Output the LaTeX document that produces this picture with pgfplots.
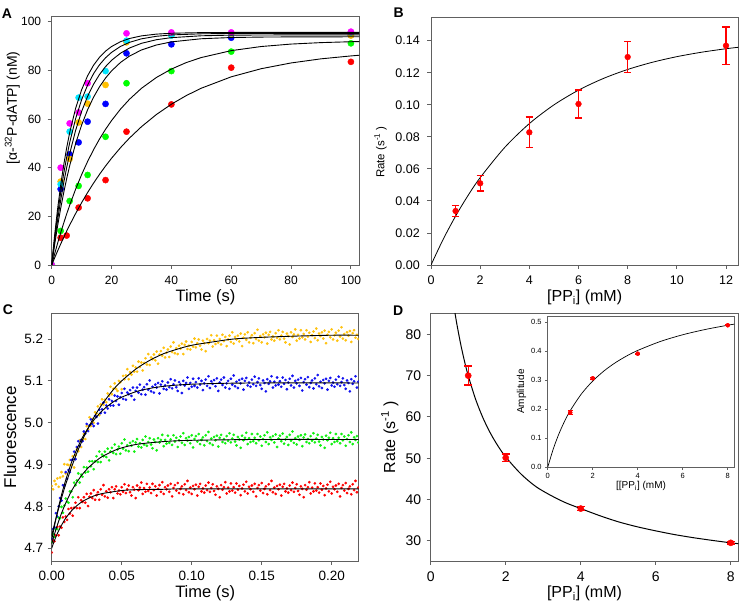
\documentclass[border=0pt]{standalone}
\usepackage{fontspec}
\setmainfont{Liberation Sans}
\usepackage{pgfplots}
\pgfplotsset{compat=1.18}
\definecolor{axgray}{HTML}{606060}
\definecolor{cmag}{HTML}{FF00FF}
\definecolor{ccyan}{HTML}{00E5FF}
\definecolor{corange}{HTML}{FFC000}
\definecolor{cblue}{HTML}{0000FF}
\definecolor{cgreen}{HTML}{00FF00}
\definecolor{cred}{HTML}{FF0000}
\definecolor{cyel}{HTML}{FFC20E}
\definecolor{cblue2}{HTML}{1010F0}
\definecolor{cgreen2}{HTML}{10F010}
\pgfplotsset{
  panel/.style={scale only axis, anchor=south west,
    axis line style={draw=axgray, line width=0.9pt},
    tick style={draw=axgray, line width=0.9pt},
    tick align=outside, major tick length=4pt, tick pos=left,
    /pgf/number format/assume math mode=true, scaled ticks=false,
    clip marker paths=true},
  dots/.style={only marks, mark=*, mark size=#1},
  fmt/.style={/pgf/number format/fixed, /pgf/number format/fixed zerofill, /pgf/number format/precision=#1},
  ebars/.style 2 args={only marks, mark=none, forget plot, color=cred,
    error bars/.cd, y dir=both, y explicit,
    error bar style={line width=#1, draw=cred, solid},
    error mark options={rotate=90, line width=#1, draw=cred, solid, mark size=#2}},
}
\begin{document}
\begin{tikzpicture}
\path[use as bounding box] (0,0) rectangle (740pt,603pt);
\node[anchor=base west, inner sep=0, font=\bfseries\fontsize{14}{14}\selectfont] at (1.7pt,584.7pt) {A};
\node[anchor=base west, inner sep=0, font=\bfseries\fontsize{14}{14}\selectfont] at (393.3pt,585.7pt) {B};
\node[anchor=base west, inner sep=0, font=\bfseries\fontsize{14}{14}\selectfont] at (2.7pt,288pt) {C};
\node[anchor=base west, inner sep=0, font=\bfseries\fontsize{14}{14}\selectfont] at (393pt,287.3pt) {D};

% ---------------- Panel A ----------------
\begin{axis}[panel, at={(51.7pt,338pt)}, width=307.6pt, height=248.3pt,
  xmin=0, xmax=102.8, ymin=0, ymax=102.05,
  xtick={0,20,40,60,80,100}, ytick={0,20,40,60,80,100},
  tick label style={font=\fontsize{12}{14}\selectfont},
  x tick label style={yshift=-4pt}, y tick label style={xshift=-3pt},
  xlabel={Time (s)},
  xlabel style={font=\fontsize{16.5}{18}\selectfont, at={(axis description cs:0.5,-0.148)}, anchor=base},
  ylabel={[α-\textsuperscript{32}P-dATP] (nM)},
  ylabel style={font=\fontsize{14}{16}\selectfont, at={(axis description cs:-0.113,0.633)}, anchor=base},
]
\addplot[dots=3.1pt, color=cred] coordinates {(0,0) (3,11.2) (5,12.1) (9,23.6) (12,27.4) (18,34.9) (25,54.8) (40,66.0) (60,81.1) (100,83.5)};
\addplot[dots=3.1pt, color=cgreen] coordinates {(0,0) (3,14.0) (6,26.3) (9,32.5) (12,37.0) (18,52.7) (25,74.7) (40,79.7) (60,87.7) (100,91.1)};
\addplot[dots=3.1pt, color=cblue] coordinates {(0,0) (3,31.2) (6,45.5) (9,50.4) (12,58.9) (18,66.2) (25,87.0) (40,90.7) (60,93.4) (100,94.5)};
\addplot[dots=3.1pt, color=corange] coordinates {(0,0) (3,34.3) (6,43.6) (9,58.6) (12,66.3) (18,74.0) (25,91.5) (40,94.5) (60,95.0) (100,94.3)};
\addplot[dots=3.1pt, color=ccyan] coordinates {(0,0) (3,33.2) (6,54.8) (9,68.8) (12,69.2) (18,79.7) (25,92.2) (40,94.3) (60,95.3) (100,95.6)};
\addplot[dots=3.1pt, color=cmag] coordinates {(0,0) (3,40.0) (6,58.2) (9,62.7) (12,74.7) (25,95.2) (40,95.6) (60,95.6) (100,95.9)};
\addplot[black, line width=0.9pt] coordinates {(0,0) (1,12.49) (2,23.35) (3,32.79) (4,40.99) (5,48.13) (6,54.33) (8,64.41) (10,72.02) (12,77.78) (14,82.13) (16,85.42) (18,87.90) (20,89.79) (23,91.78) (26,93.09) (30,94.17) (35,94.89) (40,95.25) (50,95.51) (60,95.58) (80,95.6) (102.8,95.6)};
\addplot[black, line width=0.9pt] coordinates {(0,0) (1,11.19) (2,21.06) (3,29.77) (4,37.46) (5,44.24) (6,50.23) (8,60.18) (10,67.93) (12,73.96) (14,78.65) (16,82.32) (18,85.17) (20,87.38) (23,89.83) (26,91.51) (30,92.96) (35,94.00) (40,94.56) (50,95.02) (60,95.15) (80,95.2) (102.8,95.2)};
\addplot[black, line width=0.9pt] coordinates {(0,0) (1,9.86) (2,18.68) (3,26.59) (4,33.68) (5,40.03) (6,45.70) (8,55.36) (10,63.11) (12,69.33) (14,74.32) (16,78.33) (18,81.54) (20,84.12) (23,87.06) (26,89.18) (30,91.11) (35,92.59) (40,93.44) (50,94.21) (60,94.47) (80,94.58) (102.8,94.6)};
\addplot[black, line width=0.9pt] coordinates {(0,0) (1,8.50) (2,16.23) (3,23.26) (4,29.65) (5,35.47) (6,40.76) (8,49.93) (10,57.53) (12,63.80) (14,68.99) (16,73.29) (18,76.83) (20,79.77) (23,83.25) (26,85.86) (30,88.38) (35,90.42) (40,91.70) (50,92.99) (60,93.49) (70,93.68) (80,93.75) (102.8,93.8)};
\addplot[black, line width=0.9pt] coordinates {(0,0) (1,4.63) (2,9.04) (3,13.22) (4,17.18) (5,20.95) (6,24.53) (8,31.17) (10,37.15) (12,42.55) (14,47.41) (16,51.81) (18,55.78) (20,59.35) (23,64.07) (26,68.11) (30,72.61) (35,77.08) (40,80.53) (45,83.21) (50,85.27) (60,88.10) (70,89.79) (80,90.80) (90,91.40) (100,91.76) (102.8,91.84)};
\addplot[black, line width=0.9pt] coordinates {(0,0) (1,2.97) (2,5.84) (3,8.62) (4,11.31) (5,13.90) (6,16.40) (8,21.17) (10,25.62) (12,29.78) (14,33.67) (16,37.30) (18,40.69) (20,43.86) (23,48.23) (26,52.18) (30,56.84) (35,61.86) (40,66.08) (45,69.65) (50,72.66) (60,77.34) (70,80.67) (80,83.04) (90,84.73) (100,85.93) (102.8,86.21)};
\end{axis}

% ---------------- Panel B ----------------
\begin{axis}[panel, at={(431pt,338pt)}, width=307.3pt, height=247.7pt,
  xmin=0, xmax=12.5, ymin=0, ymax=0.1546,
  xtick={0,2,4,6,8,10,12}, ytick={0,0.02,0.04,0.06,0.08,0.10,0.12,0.14},
  tick label style={font=\fontsize{12.5}{14}\selectfont},
  x tick label style={yshift=-3pt}, y tick label style={xshift=-3.7pt, fmt=2},
  xlabel={[PP\textsubscript{i}] (mM)},
  xlabel style={font=\fontsize{16}{18}\selectfont, at={(axis description cs:0.5,-0.149)}, anchor=base},
  ylabel={Rate (s\textsuperscript{-1} )},
  ylabel style={font=\fontsize{11.5}{13}\selectfont, at={(axis description cs:-0.152,0.456)}, anchor=base},
  unbounded coords=jump,
]
\addplot[black, line width=0.8pt, smooth] coordinates {(0,0) (0.5,0.01617) (1,0.03051) (1.5,0.04323) (2,0.05451) (3,0.07339) (4,0.08825) (5,0.09993) (6,0.10912) (7,0.11634) (8,0.12204) (9,0.12651) (10,0.13003) (11,0.13279) (12,0.13498) (12.5,0.13588)};
% error bars (value +- error), drawn as segments with caps
\addplot[draw=cred, line width=1.3pt, forget plot] coordinates {
(1,0.0302) (1,0.0372) (nan,nan) (0.854,0.0302) (1.146,0.0302) (nan,nan) (0.854,0.0372) (1.146,0.0372) (nan,nan)
(2,0.0462) (2,0.0558) (nan,nan) (1.854,0.0462) (2.146,0.0462) (nan,nan) (1.854,0.0558) (2.146,0.0558) (nan,nan)
(4,0.0733) (4,0.0923) (nan,nan) (3.854,0.0733) (4.146,0.0733) (nan,nan) (3.854,0.0923) (4.146,0.0923) (nan,nan)
(6,0.0918) (6,0.1092) (nan,nan) (5.854,0.0918) (6.146,0.0918) (nan,nan) (5.854,0.1092) (6.146,0.1092) (nan,nan)
(8,0.1203) (8,0.1393) (nan,nan) (7.854,0.1203) (8.146,0.1203) (nan,nan) (7.854,0.1393) (8.146,0.1393) (nan,nan)
(12,0.1253) (12,0.1485) (nan,nan) (11.854,0.1253) (12.146,0.1253) (nan,nan) (11.854,0.1485) (12.146,0.1485)};
\addplot[dots=2.9pt, color=cred] coordinates {(1,0.0337) (2,0.0510) (4,0.0828) (6,0.1005) (8,0.1298) (12,0.1369)};
\end{axis}

% ---------------- Panel C ----------------
\begin{axis}[panel, at={(51.7pt,42pt)}, width=307pt, height=247.7pt,
  xmin=0, xmax=0.2193, ymin=4.6697, ymax=5.2614,
  xtick={0,0.05,0.10,0.15,0.20}, ytick={4.7,4.8,4.9,5.0,5.1,5.2},
  tick label style={font=\fontsize{13.5}{16}\selectfont},
  x tick label style={yshift=-3pt, fmt=2},
  y tick label style={xshift=-1pt, fmt=1},
  xlabel={Time (s)},
  xlabel style={font=\fontsize{16.5}{18}\selectfont, at={(axis description cs:0.5,-0.146)}, anchor=base},
  ylabel={Fluorescence},
  ylabel style={font=\fontsize{17}{19}\selectfont, at={(axis description cs:-0.116,0.5)}, anchor=base},
]
\addplot[dots=1.15pt, color=cyel] coordinates {
(0.000,4.849) (0.001,4.841) (0.002,4.861) (0.003,4.853) (0.004,4.867) (0.005,4.847) (0.006,4.869) (0.007,4.882) (0.008,4.872) (0.009,4.901)
(0.010,4.879) (0.011,4.900) (0.012,4.899) (0.013,4.911) (0.014,4.899) (0.015,4.920) (0.016,4.893) (0.017,4.922) (0.018,4.937) (0.019,4.932)
(0.020,4.958) (0.021,4.942) (0.022,4.959) (0.023,4.973) (0.024,4.961) (0.025,4.992) (0.026,4.984) (0.027,5.013) (0.028,4.992) (0.029,5.009)
(0.030,5.000) (0.031,5.025) (0.032,5.022) (0.033,5.039) (0.034,5.018) (0.035,5.044) (0.036,5.056) (0.037,5.043) (0.038,5.055) (0.039,5.049)
(0.040,5.070) (0.041,5.064) (0.042,5.086) (0.043,5.068) (0.044,5.081) (0.045,5.094) (0.046,5.081) (0.047,5.076) (0.048,5.100) (0.049,5.097)
(0.050,5.080) (0.051,5.112) (0.052,5.104) (0.053,5.113) (0.054,5.128) (0.055,5.104) (0.056,5.121) (0.057,5.115) (0.058,5.136) (0.059,5.122)
(0.060,5.132) (0.061,5.122) (0.062,5.146) (0.063,5.133) (0.064,5.144) (0.065,5.125) (0.066,5.143) (0.067,5.154) (0.068,5.139) (0.069,5.164)
(0.070,5.138) (0.071,5.156) (0.072,5.152) (0.073,5.163) (0.074,5.149) (0.075,5.170) (0.076,5.141) (0.077,5.163) (0.078,5.171) (0.079,5.160)
(0.080,5.179) (0.081,5.156) (0.082,5.167) (0.083,5.175) (0.084,5.157) (0.085,5.182) (0.086,5.169) (0.087,5.192) (0.088,5.166) (0.089,5.178)
(0.090,5.164) (0.091,5.184) (0.092,5.177) (0.093,5.189) (0.094,5.164) (0.095,5.186) (0.096,5.194) (0.097,5.176) (0.098,5.184) (0.099,5.175)
(0.100,5.193) (0.101,5.182) (0.102,5.201) (0.103,5.180) (0.104,5.190) (0.105,5.199) (0.106,5.184) (0.107,5.175) (0.108,5.196) (0.109,5.190)
(0.110,5.171) (0.111,5.200) (0.112,5.190) (0.113,5.196) (0.114,5.209) (0.115,5.182) (0.116,5.197) (0.117,5.188) (0.118,5.208) (0.119,5.191)
(0.120,5.200) (0.121,5.187) (0.122,5.210) (0.123,5.195) (0.124,5.205) (0.125,5.183) (0.126,5.199) (0.127,5.208) (0.128,5.193) (0.129,5.216)
(0.130,5.189) (0.131,5.205) (0.132,5.199) (0.133,5.208) (0.134,5.194) (0.135,5.213) (0.136,5.183) (0.137,5.203) (0.138,5.211) (0.139,5.198)
(0.140,5.216) (0.141,5.192) (0.142,5.203) (0.143,5.209) (0.144,5.190) (0.145,5.214) (0.146,5.200) (0.147,5.222) (0.148,5.196) (0.149,5.207)
(0.150,5.192) (0.151,5.211) (0.152,5.204) (0.153,5.215) (0.154,5.189) (0.155,5.210) (0.156,5.217) (0.157,5.199) (0.158,5.206) (0.159,5.196)
(0.160,5.214) (0.161,5.203) (0.162,5.221) (0.163,5.199) (0.164,5.208) (0.165,5.217) (0.166,5.201) (0.167,5.192) (0.168,5.213) (0.169,5.207)
(0.170,5.187) (0.171,5.216) (0.172,5.205) (0.173,5.211) (0.174,5.223) (0.175,5.196) (0.176,5.210) (0.177,5.201) (0.178,5.221) (0.179,5.204)
(0.180,5.212) (0.181,5.199) (0.182,5.221) (0.183,5.206) (0.184,5.215) (0.185,5.193) (0.186,5.209) (0.187,5.218) (0.188,5.202) (0.189,5.225)
(0.190,5.197) (0.191,5.213) (0.192,5.207) (0.193,5.216) (0.194,5.201) (0.195,5.220) (0.196,5.190) (0.197,5.210) (0.198,5.217) (0.199,5.204)
(0.200,5.223) (0.201,5.199) (0.202,5.209) (0.203,5.215) (0.204,5.196) (0.205,5.220) (0.206,5.206) (0.207,5.228) (0.208,5.201) (0.209,5.212)
(0.210,5.197) (0.211,5.216) (0.212,5.208) (0.213,5.219) (0.214,5.193) (0.215,5.214) (0.216,5.221) (0.217,5.203) (0.218,5.210) (0.219,5.200)};
\addplot[dots=1.15pt, color=cblue2] coordinates {
(0.000,4.722) (0.001,4.746) (0.002,4.750) (0.003,4.784) (0.004,4.776) (0.005,4.800) (0.006,4.820) (0.007,4.814) (0.008,4.851) (0.009,4.849)
(0.010,4.882) (0.011,4.866) (0.012,4.887) (0.013,4.882) (0.014,4.911) (0.015,4.912) (0.016,4.931) (0.017,4.913) (0.018,4.942) (0.019,4.956)
(0.020,4.945) (0.021,4.959) (0.022,4.956) (0.023,4.979) (0.024,4.974) (0.025,4.997) (0.026,4.980) (0.027,4.994) (0.028,5.008) (0.029,4.997)
(0.030,4.992) (0.031,5.016) (0.032,5.014) (0.033,4.998) (0.034,5.031) (0.035,5.023) (0.036,5.032) (0.037,5.048) (0.038,5.024) (0.039,5.041)
(0.040,5.034) (0.041,5.056) (0.042,5.041) (0.043,5.052) (0.044,5.041) (0.045,5.065) (0.046,5.052) (0.047,5.063) (0.048,5.043) (0.049,5.061)
(0.050,5.071) (0.051,5.057) (0.052,5.081) (0.053,5.055) (0.054,5.072) (0.055,5.068) (0.056,5.078) (0.057,5.064) (0.058,5.084) (0.059,5.055)
(0.060,5.076) (0.061,5.084) (0.062,5.072) (0.063,5.091) (0.064,5.068) (0.065,5.079) (0.066,5.085) (0.067,5.067) (0.068,5.092) (0.069,5.079)
(0.070,5.101) (0.071,5.075) (0.072,5.086) (0.073,5.072) (0.074,5.091) (0.075,5.084) (0.076,5.095) (0.077,5.070) (0.078,5.091) (0.079,5.099)
(0.080,5.081) (0.081,5.089) (0.082,5.079) (0.083,5.096) (0.084,5.085) (0.085,5.104) (0.086,5.082) (0.087,5.092) (0.088,5.101) (0.089,5.085)
(0.090,5.076) (0.091,5.097) (0.092,5.091) (0.093,5.071) (0.094,5.100) (0.095,5.089) (0.096,5.095) (0.097,5.108) (0.098,5.081) (0.099,5.095)
(0.100,5.086) (0.101,5.105) (0.102,5.088) (0.103,5.097) (0.104,5.084) (0.105,5.106) (0.106,5.091) (0.107,5.100) (0.108,5.078) (0.109,5.094)
(0.110,5.103) (0.111,5.088) (0.112,5.111) (0.113,5.083) (0.114,5.099) (0.115,5.093) (0.116,5.102) (0.117,5.087) (0.118,5.106) (0.119,5.076)
(0.120,5.096) (0.121,5.103) (0.122,5.090) (0.123,5.108) (0.124,5.084) (0.125,5.094) (0.126,5.100) (0.127,5.081) (0.128,5.105) (0.129,5.091)
(0.130,5.113) (0.131,5.087) (0.132,5.098) (0.133,5.083) (0.134,5.102) (0.135,5.094) (0.136,5.105) (0.137,5.079) (0.138,5.100) (0.139,5.107)
(0.140,5.089) (0.141,5.096) (0.142,5.086) (0.143,5.103) (0.144,5.092) (0.145,5.110) (0.146,5.088) (0.147,5.097) (0.148,5.106) (0.149,5.090)
(0.150,5.081) (0.151,5.101) (0.152,5.095) (0.153,5.075) (0.154,5.104) (0.155,5.093) (0.156,5.099) (0.157,5.111) (0.158,5.084) (0.159,5.098)
(0.160,5.089) (0.161,5.108) (0.162,5.091) (0.163,5.099) (0.164,5.086) (0.165,5.108) (0.166,5.093) (0.167,5.102) (0.168,5.080) (0.169,5.096)
(0.170,5.105) (0.171,5.089) (0.172,5.112) (0.173,5.084) (0.174,5.100) (0.175,5.094) (0.176,5.103) (0.177,5.088) (0.178,5.107) (0.179,5.077)
(0.180,5.097) (0.181,5.104) (0.182,5.091) (0.183,5.109) (0.184,5.085) (0.185,5.095) (0.186,5.101) (0.187,5.082) (0.188,5.106) (0.189,5.092)
(0.190,5.114) (0.191,5.087) (0.192,5.098) (0.193,5.083) (0.194,5.102) (0.195,5.094) (0.196,5.105) (0.197,5.079) (0.198,5.100) (0.199,5.107)
(0.200,5.089) (0.201,5.096) (0.202,5.086) (0.203,5.103) (0.204,5.092) (0.205,5.110) (0.206,5.088) (0.207,5.097) (0.208,5.106) (0.209,5.090)
(0.210,5.081) (0.211,5.101) (0.212,5.095) (0.213,5.075) (0.214,5.104) (0.215,5.093) (0.216,5.099) (0.217,5.111) (0.218,5.084) (0.219,5.098)};
\addplot[dots=1.15pt, color=cgreen2] coordinates {
(0.000,4.715) (0.001,4.734) (0.002,4.728) (0.003,4.746) (0.004,4.746) (0.005,4.773) (0.006,4.772) (0.007,4.799) (0.008,4.785) (0.009,4.802)
(0.010,4.819) (0.011,4.811) (0.012,4.809) (0.013,4.836) (0.014,4.836) (0.015,4.822) (0.016,4.857) (0.017,4.851) (0.018,4.862) (0.019,4.879)
(0.020,4.857) (0.021,4.876) (0.022,4.871) (0.023,4.894) (0.024,4.881) (0.025,4.893) (0.026,4.883) (0.027,4.908) (0.028,4.896) (0.029,4.908)
(0.030,4.889) (0.031,4.908) (0.032,4.920) (0.033,4.906) (0.034,4.931) (0.035,4.906) (0.036,4.924) (0.037,4.920) (0.038,4.931) (0.039,4.918)
(0.040,4.938) (0.041,4.910) (0.042,4.931) (0.043,4.940) (0.044,4.928) (0.045,4.948) (0.046,4.925) (0.047,4.936) (0.048,4.943) (0.049,4.926)
(0.050,4.951) (0.051,4.938) (0.052,4.960) (0.053,4.934) (0.054,4.946) (0.055,4.932) (0.056,4.952) (0.057,4.945) (0.058,4.956) (0.059,4.931)
(0.060,4.953) (0.061,4.961) (0.062,4.943) (0.063,4.951) (0.064,4.941) (0.065,4.959) (0.066,4.948) (0.067,4.967) (0.068,4.945) (0.069,4.954)
(0.070,4.963) (0.071,4.948) (0.072,4.939) (0.073,4.960) (0.074,4.954) (0.075,4.934) (0.076,4.963) (0.077,4.953) (0.078,4.959) (0.079,4.971)
(0.080,4.944) (0.081,4.959) (0.082,4.950) (0.083,4.969) (0.084,4.952) (0.085,4.960) (0.086,4.947) (0.087,4.970) (0.088,4.955) (0.089,4.964)
(0.090,4.942) (0.091,4.958) (0.092,4.967) (0.093,4.952) (0.094,4.975) (0.095,4.947) (0.096,4.963) (0.097,4.957) (0.098,4.966) (0.099,4.951)
(0.100,4.970) (0.101,4.941) (0.102,4.961) (0.103,4.968) (0.104,4.955) (0.105,4.973) (0.106,4.949) (0.107,4.959) (0.108,4.965) (0.109,4.946)
(0.110,4.970) (0.111,4.956) (0.112,4.978) (0.113,4.951) (0.114,4.962) (0.115,4.947) (0.116,4.966) (0.117,4.958) (0.118,4.969) (0.119,4.943)
(0.120,4.964) (0.121,4.971) (0.122,4.954) (0.123,4.961) (0.124,4.951) (0.125,4.968) (0.126,4.957) (0.127,4.975) (0.128,4.953) (0.129,4.962)
(0.130,4.971) (0.131,4.955) (0.132,4.946) (0.133,4.966) (0.134,4.960) (0.135,4.940) (0.136,4.969) (0.137,4.958) (0.138,4.964) (0.139,4.976)
(0.140,4.949) (0.141,4.963) (0.142,4.954) (0.143,4.973) (0.144,4.956) (0.145,4.964) (0.146,4.951) (0.147,4.973) (0.148,4.958) (0.149,4.967)
(0.150,4.945) (0.151,4.961) (0.152,4.970) (0.153,4.954) (0.154,4.977) (0.155,4.949) (0.156,4.965) (0.157,4.959) (0.158,4.968) (0.159,4.953)
(0.160,4.972) (0.161,4.942) (0.162,4.962) (0.163,4.969) (0.164,4.956) (0.165,4.974) (0.166,4.950) (0.167,4.960) (0.168,4.966) (0.169,4.947)
(0.170,4.971) (0.171,4.957) (0.172,4.979) (0.173,4.952) (0.174,4.963) (0.175,4.948) (0.176,4.967) (0.177,4.959) (0.178,4.970) (0.179,4.944)
(0.180,4.965) (0.181,4.972) (0.182,4.954) (0.183,4.961) (0.184,4.951) (0.185,4.968) (0.186,4.957) (0.187,4.975) (0.188,4.953) (0.189,4.962)
(0.190,4.971) (0.191,4.955) (0.192,4.946) (0.193,4.966) (0.194,4.960) (0.195,4.940) (0.196,4.969) (0.197,4.958) (0.198,4.964) (0.199,4.976)
(0.200,4.949) (0.201,4.963) (0.202,4.954) (0.203,4.973) (0.204,4.956) (0.205,4.964) (0.206,4.951) (0.207,4.973) (0.208,4.958) (0.209,4.967)
(0.210,4.945) (0.211,4.961) (0.212,4.970) (0.213,4.954) (0.214,4.977) (0.215,4.949) (0.216,4.965) (0.217,4.959) (0.218,4.968) (0.219,4.953)};
\addplot[dots=1.15pt, color=cred] coordinates {
(0.000,4.690) (0.001,4.719) (0.002,4.717) (0.003,4.731) (0.004,4.751) (0.005,4.731) (0.006,4.752) (0.007,4.749) (0.008,4.774) (0.009,4.763)
(0.010,4.776) (0.011,4.768) (0.012,4.794) (0.013,4.783) (0.014,4.796) (0.015,4.778) (0.016,4.797) (0.017,4.809) (0.018,4.796) (0.019,4.822)
(0.020,4.796) (0.021,4.815) (0.022,4.811) (0.023,4.822) (0.024,4.809) (0.025,4.830) (0.026,4.801) (0.027,4.823) (0.028,4.831) (0.029,4.820)
(0.030,4.839) (0.031,4.816) (0.032,4.827) (0.033,4.834) (0.034,4.816) (0.035,4.841) (0.036,4.828) (0.037,4.851) (0.038,4.824) (0.039,4.836)
(0.040,4.821) (0.041,4.841) (0.042,4.834) (0.043,4.846) (0.044,4.820) (0.045,4.841) (0.046,4.848) (0.047,4.831) (0.048,4.838) (0.049,4.829)
(0.050,4.846) (0.051,4.835) (0.052,4.853) (0.053,4.832) (0.054,4.841) (0.055,4.850) (0.056,4.834) (0.057,4.826) (0.058,4.846) (0.059,4.840)
(0.060,4.820) (0.061,4.850) (0.062,4.839) (0.063,4.845) (0.064,4.857) (0.065,4.830) (0.066,4.844) (0.067,4.835) (0.068,4.854) (0.069,4.837)
(0.070,4.845) (0.071,4.832) (0.072,4.854) (0.073,4.839) (0.074,4.848) (0.075,4.826) (0.076,4.842) (0.077,4.851) (0.078,4.835) (0.079,4.858)
(0.080,4.830) (0.081,4.846) (0.082,4.841) (0.083,4.850) (0.084,4.835) (0.085,4.854) (0.086,4.824) (0.087,4.844) (0.088,4.851) (0.089,4.838)
(0.090,4.856) (0.091,4.832) (0.092,4.842) (0.093,4.848) (0.094,4.829) (0.095,4.853) (0.096,4.839) (0.097,4.861) (0.098,4.834) (0.099,4.845)
(0.100,4.830) (0.101,4.849) (0.102,4.841) (0.103,4.852) (0.104,4.826) (0.105,4.847) (0.106,4.854) (0.107,4.836) (0.108,4.843) (0.109,4.833)
(0.110,4.850) (0.111,4.839) (0.112,4.857) (0.113,4.835) (0.114,4.844) (0.115,4.853) (0.116,4.837) (0.117,4.828) (0.118,4.848) (0.119,4.842)
(0.120,4.822) (0.121,4.851) (0.122,4.840) (0.123,4.846) (0.124,4.858) (0.125,4.831) (0.126,4.845) (0.127,4.836) (0.128,4.855) (0.129,4.838)
(0.130,4.846) (0.131,4.833) (0.132,4.855) (0.133,4.840) (0.134,4.849) (0.135,4.827) (0.136,4.843) (0.137,4.852) (0.138,4.836) (0.139,4.859)
(0.140,4.831) (0.141,4.847) (0.142,4.841) (0.143,4.850) (0.144,4.835) (0.145,4.854) (0.146,4.824) (0.147,4.844) (0.148,4.851) (0.149,4.838)
(0.150,4.856) (0.151,4.832) (0.152,4.842) (0.153,4.848) (0.154,4.829) (0.155,4.853) (0.156,4.839) (0.157,4.861) (0.158,4.834) (0.159,4.845)
(0.160,4.830) (0.161,4.849) (0.162,4.841) (0.163,4.852) (0.164,4.826) (0.165,4.847) (0.166,4.854) (0.167,4.836) (0.168,4.843) (0.169,4.833)
(0.170,4.850) (0.171,4.839) (0.172,4.857) (0.173,4.835) (0.174,4.844) (0.175,4.853) (0.176,4.837) (0.177,4.828) (0.178,4.848) (0.179,4.842)
(0.180,4.822) (0.181,4.851) (0.182,4.840) (0.183,4.846) (0.184,4.858) (0.185,4.831) (0.186,4.845) (0.187,4.836) (0.188,4.855) (0.189,4.838)
(0.190,4.846) (0.191,4.833) (0.192,4.855) (0.193,4.840) (0.194,4.849) (0.195,4.827) (0.196,4.843) (0.197,4.852) (0.198,4.836) (0.199,4.859)
(0.200,4.831) (0.201,4.847) (0.202,4.841) (0.203,4.850) (0.204,4.835) (0.205,4.854) (0.206,4.824) (0.207,4.844) (0.208,4.851) (0.209,4.838)
(0.210,4.856) (0.211,4.832) (0.212,4.842) (0.213,4.848) (0.214,4.829) (0.215,4.853) (0.216,4.839) (0.217,4.861) (0.218,4.834) (0.219,4.845)};
\addplot[black, line width=0.9pt, smooth] coordinates {(0,4.730) (0.002,4.758) (0.004,4.783) (0.006,4.808) (0.008,4.831) (0.010,4.853) (0.014,4.892) (0.018,4.928) (0.022,4.959) (0.026,4.987) (0.030,5.012) (0.035,5.039) (0.040,5.062) (0.045,5.083) (0.050,5.100) (0.060,5.128) (0.070,5.149) (0.080,5.165) (0.090,5.176) (0.100,5.185) (0.115,5.193) (0.130,5.200) (0.150,5.204) (0.175,5.207) (0.200,5.209) (0.2193,5.209)};
\addplot[black, line width=0.9pt, smooth] coordinates {(0,4.720) (0.002,4.754) (0.004,4.786) (0.006,4.814) (0.008,4.840) (0.010,4.863) (0.014,4.904) (0.018,4.937) (0.022,4.965) (0.026,4.987) (0.030,5.006) (0.035,5.025) (0.040,5.040) (0.045,5.052) (0.050,5.061) (0.060,5.074) (0.070,5.082) (0.080,5.087) (0.090,5.090) (0.100,5.092) (0.120,5.094) (0.150,5.095) (0.2193,5.095)};
\addplot[black, line width=0.9pt, smooth] coordinates {(0,4.710) (0.002,4.734) (0.004,4.755) (0.006,4.775) (0.008,4.792) (0.010,4.808) (0.014,4.836) (0.018,4.858) (0.022,4.877) (0.026,4.892) (0.030,4.904) (0.035,4.917) (0.040,4.926) (0.045,4.934) (0.050,4.940) (0.060,4.948) (0.070,4.952) (0.080,4.955) (0.090,4.957) (0.100,4.958) (0.120,4.959) (0.150,4.960) (0.2193,4.960)};
\addplot[black, line width=0.9pt, smooth] coordinates {(0,4.700) (0.002,4.719) (0.004,4.735) (0.006,4.749) (0.008,4.761) (0.010,4.772) (0.014,4.789) (0.018,4.802) (0.022,4.812) (0.026,4.819) (0.030,4.825) (0.035,4.830) (0.040,4.833) (0.050,4.838) (0.060,4.840) (0.080,4.841) (0.100,4.842) (0.2193,4.842)};
\end{axis}

% ---------------- Panel D ----------------
\begin{axis}[panel, at={(430.7pt,42pt)}, width=307.6pt, height=247.7pt,
  xmin=0, xmax=8.2, ymin=25.1, ymax=85.1,
  xtick={0,2,4,6,8}, ytick={30,40,50,60,70,80},
  tick label style={font=\fontsize{14}{16}\selectfont},
  x tick label style={yshift=-3pt}, y tick label style={xshift=-2pt},
  xlabel={[PP\textsubscript{i}] (mM)},
  xlabel style={font=\fontsize{16}{18}\selectfont, at={(axis description cs:0.5,-0.149)}, anchor=base},
  ylabel={Rate (s\textsuperscript{-1} )},
  ylabel style={font=\fontsize{16}{18}\selectfont, at={(axis description cs:-0.116,0.5)}, anchor=base},
]
\addplot[black, line width=1pt, smooth] coordinates {(0.6,87.96) (0.65,85.03) (0.7,82.35) (0.8,77.60) (0.9,73.53) (1.0,70.00) (1.2,64.20) (1.4,59.63) (1.6,55.92) (1.8,52.87) (2.0,50.30) (2.4,46.23) (2.8,43.15) (3.2,41.0) (3.6,39.2) (4.0,37.8) (4.5,36.1) (5.0,34.6) (5.5,33.4) (6.0,32.4) (6.5,31.5) (7.0,30.75) (7.5,30.1) (8.0,29.5) (8.2,29.3)};
\addplot[ebars={1.3pt}{4pt}] coordinates {(1,70.0) +- (0,2.3) (2,50.1) +- (0,0.9) (4,37.8) +- (0,0.5) (8,29.5) +- (0,0.25)};
\addplot[dots=3.1pt, color=cred] coordinates {(1,70.0) (2,50.1) (4,37.8) (8,29.5)};
\end{axis}

% ---------------- Inset ----------------
\begin{axis}[panel, at={(547.7pt,135.7pt)}, width=186.6pt, height=151.3pt,
  axis background/.style={fill=white},
  xmin=0, xmax=8.29, ymin=0, ymax=0.522,
  major tick length=2.5pt,
  axis line style={draw=axgray, line width=0.7pt}, tick style={draw=axgray, line width=0.7pt},
  xtick={0,2,4,6,8}, ytick={0,0.1,0.2,0.3,0.4,0.5},
  tick label style={font=\fontsize{7.5}{9}\selectfont},
  y tick label style={fmt=1},
  xlabel={[[PP\textsubscript{i}] (mM)},
  xlabel style={font=\fontsize{10}{12}\selectfont, at={(axis description cs:0.5,-0.143)}, anchor=base},
  ylabel={Amplitude},
  ylabel style={font=\fontsize{10}{12}\selectfont, at={(axis description cs:-0.127,0.5)}, anchor=base},
]
\addplot[black, line width=0.7pt, smooth] coordinates {(0,0) (0.25,0.0638) (0.5,0.1157) (0.75,0.1589) (1,0.1953) (1.5,0.2534) (2,0.2976) (2.5,0.3324) (3,0.3606) (3.5,0.3838) (4,0.4032) (5,0.4340) (6,0.4573) (7,0.4755) (8,0.4902) (8.29,0.4940)};
\addplot[ebars={0.9pt}{2.3pt}] coordinates {(1,0.189) +- (0,0.006) (2,0.307) +- (0,0.004) (4,0.392) +- (0,0.002) (8,0.490) +- (0,0.002)};
\addplot[dots=1.9pt, color=cred] coordinates {(1,0.189) (2,0.307) (4,0.392) (8,0.490)};
\end{axis}
\end{tikzpicture}
\end{document}
